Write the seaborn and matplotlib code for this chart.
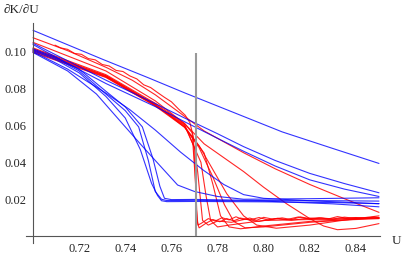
import matplotlib
matplotlib.use("Agg")
import matplotlib.pyplot as plt
import numpy as np
import seaborn as sns

# ---- blue curves ----
b1_x = [0.70, 0.73, 0.75, 0.766, 0.78, 0.795, 0.808, 0.83, 0.85]
b1_y = [0.1115, 0.0959, 0.0858, 0.0775, 0.0705, 0.0630, 0.0565, 0.0475, 0.0394]

b2_x = [0.70, 0.715, 0.7316, 0.753, 0.7657, 0.78, 0.7913, 0.805, 0.82, 0.835, 0.85]
b2_y = [0.1045, 0.0950, 0.0845, 0.0718, 0.0640, 0.0555, 0.0485, 0.0410, 0.0340, 0.0285, 0.0235]

b3_x = [0.70, 0.715, 0.7316, 0.753, 0.7657, 0.78, 0.7913, 0.805, 0.82, 0.835, 0.85]
b3_y = [0.1038, 0.0935, 0.0827, 0.0702, 0.0620, 0.0530, 0.0460, 0.0380, 0.0305, 0.0255, 0.0215]

bm1_x = [0.70, 0.715, 0.7316, 0.742, 0.753, 0.764, 0.774, 0.7827, 0.7913, 0.80, 0.82, 0.85]
bm1_y = [0.1000, 0.0905, 0.0775, 0.0685, 0.0575, 0.0455, 0.0356, 0.0280, 0.0225, 0.0205, 0.0192, 0.0176]

bm2_x = [0.70, 0.715, 0.7275, 0.740, 0.7465, 0.753, 0.7627, 0.770, 0.780, 0.7913, 0.82, 0.85]
bm2_y = [0.0995, 0.0895, 0.0770, 0.0592, 0.0500, 0.0410, 0.0277, 0.0242, 0.0215, 0.0200, 0.0203, 0.0208]

d1_x = [0.70, 0.71, 0.72, 0.7316, 0.74, 0.7465, 0.7514, 0.754, 0.7557, 0.758, 0.77, 0.80, 0.83, 0.85]
d1_y = [0.1005, 0.0955, 0.0885, 0.0757, 0.0640, 0.0470, 0.0286, 0.0220, 0.0192, 0.0187, 0.0188, 0.0186, 0.0182, 0.0176]

d2_x = [0.70, 0.71, 0.72, 0.7316, 0.74, 0.7458, 0.750, 0.753, 0.7557, 0.758, 0.77, 0.80, 0.83, 0.85]
d2_y = [0.1010, 0.0962, 0.0895, 0.0770, 0.0680, 0.0592, 0.0410, 0.0242, 0.0200, 0.0193, 0.0194, 0.0190, 0.0175, 0.0159]

d3_x = [0.70, 0.71, 0.72, 0.7316, 0.74, 0.7474, 0.752, 0.755, 0.757, 0.760, 0.77, 0.80, 0.83, 0.85]
d3_y = [0.1015, 0.0968, 0.0905, 0.0785, 0.0700, 0.0592, 0.0420, 0.0270, 0.0205, 0.0198, 0.0199, 0.0193, 0.0192, 0.0190]

# ---- red curves ----
r1_x = [0.70, 0.715, 0.7316, 0.743, 0.753, 0.764, 0.7742, 0.7913, 0.805, 0.82, 0.835, 0.85]
r1_y = [0.1075, 0.1005, 0.0915, 0.0845, 0.0766, 0.0665, 0.0570, 0.0452, 0.0365, 0.0280, 0.0203, 0.0129]

r2_x = [0.70, 0.7316, 0.753, 0.7657, 0.7742, 0.7913, 0.80, 0.81, 0.82, 0.826, 0.832, 0.84, 0.85]
r2_y = [0.1050, 0.0895, 0.0733, 0.0610, 0.0500, 0.0350, 0.0265, 0.0175, 0.0095, 0.0055, 0.0035, 0.0042, 0.0068]

r3_x = [0.70, 0.7316, 0.753, 0.7657, 0.772, 0.778, 0.784, 0.7913, 0.797, 0.8055, 0.82, 0.835, 0.85]
r3_y = [0.1015, 0.0870, 0.0714, 0.0590, 0.0490, 0.0360, 0.0230, 0.0110, 0.0060, 0.0043, 0.0060, 0.0087, 0.0110]

r4_x = [0.70, 0.7316, 0.753, 0.7657, 0.772, 0.778, 0.783, 0.787, 0.792, 0.80, 0.82, 0.85]
r4_y = [0.0995, 0.0860, 0.0705, 0.0590, 0.0480, 0.0320, 0.0170, 0.0080, 0.0045, 0.0050, 0.0075, 0.0100]

r5_x = [0.70, 0.7316, 0.753, 0.7657, 0.7742, 0.778, 0.7813, 0.785, 0.79, 0.80, 0.82, 0.85]
r5_y = [0.1005, 0.0865, 0.0710, 0.0595, 0.0450, 0.0280, 0.0110, 0.0050, 0.0040, 0.0055, 0.0080, 0.0095]

r6_x = [0.70, 0.7316, 0.753, 0.7657, 0.7728, 0.775, 0.777, 0.780, 0.785, 0.80, 0.82, 0.85]
r6_y = [0.1000, 0.0862, 0.0708, 0.0600, 0.0400, 0.0220, 0.0085, 0.0050, 0.0060, 0.0085, 0.0090, 0.0098]

r7_x = [0.70, 0.7316, 0.753, 0.7657, 0.770, 0.7714, 0.7735, 0.776, 0.780, 0.786, 0.792, 0.798, 0.805, 0.812, 0.82, 0.83, 0.84, 0.85]
r7_y = [0.1010, 0.0868, 0.0712, 0.0605, 0.0480, 0.0347, 0.0085, 0.0060, 0.0082, 0.0075, 0.0092, 0.0080, 0.0095, 0.0086, 0.0098, 0.0090, 0.0100, 0.0096]

r8_x = [0.70, 0.7316, 0.753, 0.7657, 0.769, 0.7704, 0.7712, 0.772, 0.775, 0.778, 0.781, 0.784, 0.787, 0.790, 0.794, 0.798, 0.802, 0.806, 0.810, 0.815, 0.82, 0.825, 0.83, 0.835, 0.84, 0.845, 0.85]
r8_y = [0.1020, 0.0875, 0.0720, 0.0610, 0.0560, 0.0300, 0.0080, 0.0045, 0.0070, 0.0090, 0.0078, 0.0095, 0.0083, 0.0098, 0.0088, 0.0101, 0.0087, 0.0097, 0.0090, 0.0104, 0.0092, 0.0099, 0.0093, 0.0103, 0.0096, 0.0101, 0.0099]

n1_x = [0.7095, 0.712, 0.715, 0.718, 0.721, 0.724, 0.727, 0.730, 0.733, 0.736, 0.739, 0.742, 0.745,
        0.748, 0.751, 0.754, 0.757, 0.760, 0.763, 0.766, 0.768, 0.7695, 0.7703, 0.7708, 0.7715,
        0.773, 0.776, 0.779, 0.782, 0.785, 0.788, 0.791, 0.794, 0.797, 0.800, 0.804, 0.808, 0.812,
        0.816, 0.820, 0.824, 0.828, 0.832, 0.836, 0.840, 0.844, 0.848, 0.850]
n1_y = [0.1035, 0.1020, 0.1012, 0.0990, 0.0985, 0.0962, 0.0955, 0.0930, 0.0922, 0.0898, 0.0892, 0.0868, 0.0852,
        0.0820, 0.0805, 0.0778, 0.0752, 0.0728, 0.0690, 0.0655, 0.0615, 0.0540, 0.0350, 0.0150, 0.0060,
        0.0070, 0.0095, 0.0082, 0.0100, 0.0088, 0.0105, 0.0090, 0.0098, 0.0086, 0.0102, 0.0092, 0.0099, 0.0090,
        0.0104, 0.0095, 0.0100, 0.0093, 0.0106, 0.0097, 0.0101, 0.0096, 0.0104, 0.0100]

marker_x = 0.7706
marker_top = 0.099

blue_curves = [(b1_x, b1_y), (b2_x, b2_y), (b3_x, b3_y), (bm1_x, bm1_y), (bm2_x, bm2_y),
               (d1_x, d1_y), (d2_x, d2_y), (d3_x, d3_y)]
red_curves = [(r1_x, r1_y), (r2_x, r2_y), (r3_x, r3_y), (r4_x, r4_y), (r5_x, r5_y),
              (r6_x, r6_y), (r7_x, r7_y), (r8_x, r8_y), (n1_x, n1_y)]

sns.set_style("white")
plt.rcParams['font.family'] = ['Liberation Serif', 'DejaVu Serif']

fig = plt.figure(figsize=(4.07, 2.61), dpi=100)
ax = fig.add_axes([0.063, 0.069, 0.871, 0.843])

for cx, cy in red_curves:
    sns.lineplot(x=cx, y=cy, ax=ax, color='#ff0000', lw=0.8, alpha=0.85, sort=False, estimator=None)
for cx, cy in blue_curves:
    sns.lineplot(x=cx, y=cy, ax=ax, color='#0000ff', lw=0.8, alpha=0.8, sort=False, estimator=None)

ax.vlines(marker_x, 0, marker_top, color='#999999', lw=1.5, zorder=5)

ax.set_xlim(0.6968, 0.8505)
ax.set_ylim(-0.0037, 0.1155)
for s in ['top', 'right']:
    ax.spines[s].set_visible(False)
ax.spines['left'].set_position(('data', 0.70))
ax.spines['bottom'].set_position(('data', 0.0))
for s in ['left', 'bottom']:
    ax.spines[s].set_color('#555555')
    ax.spines[s].set_linewidth(0.8)

ax.set_xticks([0.72, 0.74, 0.76, 0.78, 0.80, 0.82, 0.84])
ax.set_xticklabels(['0.72', '0.74', '0.76', '0.78', '0.80', '0.82', '0.84'])
ax.set_yticks([0.02, 0.04, 0.06, 0.08, 0.10])
ax.set_yticklabels(['0.02', '0.04', '0.06', '0.08', '0.10'])
ax.set_xticks(np.arange(0.70, 0.8501, 0.005), minor=True)
ax.set_yticks(np.arange(0.0, 0.1151, 0.005), minor=True)
ax.tick_params(which='major', direction='in', length=4, width=0.6, color='#555555',
               labelsize=9, pad=5)
ax.tick_params(which='minor', direction='in', length=2, width=0.5, color='#555555')
ax.grid(False)

fig.text(0.01, 0.985, '∂K/∂U', fontsize=9.5, va='top', ha='left')
fig.text(0.962, 0.075, 'U', fontsize=9.5, va='center', ha='left')

fig.savefig('out.png', dpi=100)
